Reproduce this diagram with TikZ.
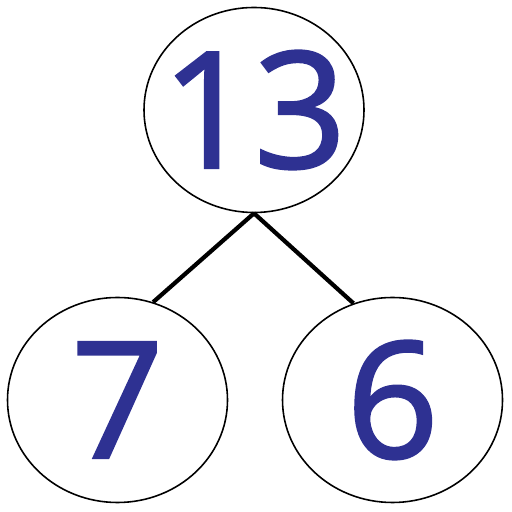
\documentclass[tikz,border=0pt]{standalone}
\usepackage{fontspec}
\newfontfamily\numfont[FakeBold=1.6]{Open Sans}
\usetikzlibrary{shapes.geometric}
\definecolor{numblue}{RGB}{46,49,146}
\tikzset{
	bubble/.style = {ellipse, draw, line width=0.45pt, minimum width=2.2cm, minimum height=2.05cm, inner sep=0pt, text=numblue, font=\numfont\fontsize{46}{50}\selectfont},
	branch/.style = {line width=1.2pt}
}

\begin{document}
\begin{tikzpicture}
		\useasboundingbox (0,0) rectangle (5.12,5.12);
		\node[bubble] (whole) at (2.54, 4.02) {\makebox[0pt]{13}};
		\node[bubble] (left) at (1.175, 1.12) {\makebox[0pt]{7}};
		\node[bubble] (right) at (3.925, 1.12) {\makebox[0pt]{6}};
		\draw[branch] (whole.south) -- (left.70);
		\draw[branch] (whole.south) -- (right.112);
	\end{tikzpicture}
\end{document}
